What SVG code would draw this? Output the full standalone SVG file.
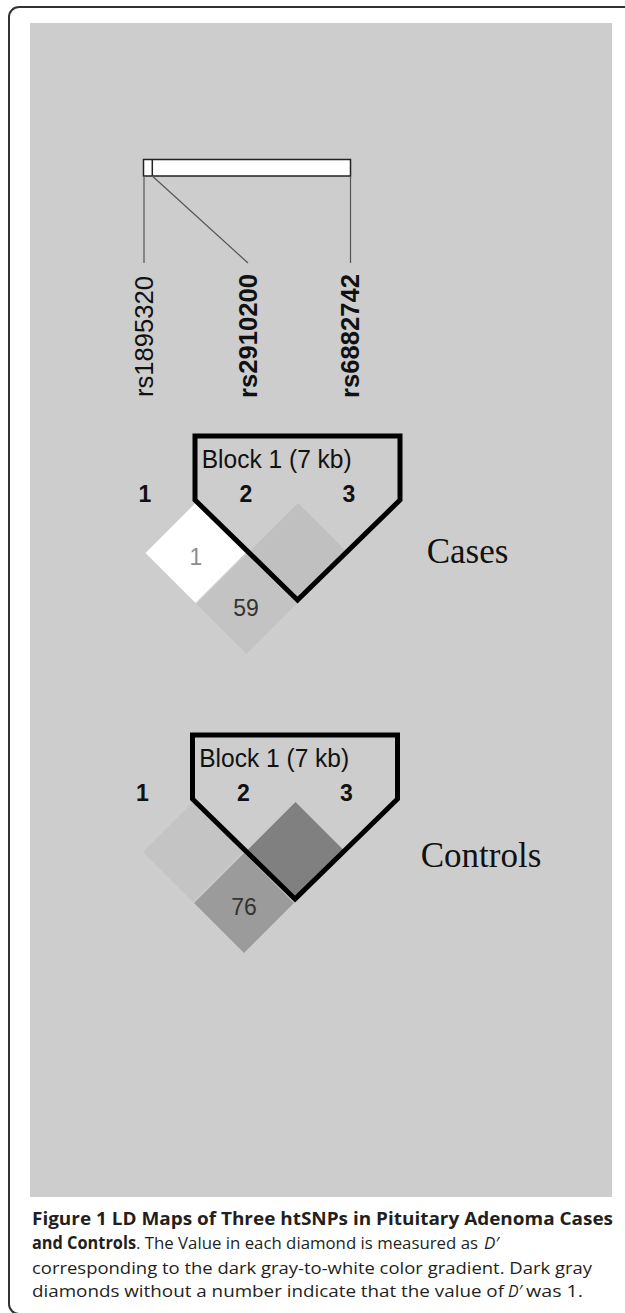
<svg xmlns="http://www.w3.org/2000/svg" width="625" height="1313" viewBox="0 0 625 1313">
<style>
.snp{font-family:"Liberation Sans",Arial,sans-serif;font-size:26px;fill:#111}
.snpb{font-family:"Liberation Sans",Arial,sans-serif;font-size:26px;font-weight:bold;fill:#111}
.idx{font-family:"Liberation Sans",Arial,sans-serif;font-size:23px;font-weight:bold;fill:#111;text-anchor:middle}
.blk{font-family:"Liberation Sans",Arial,sans-serif;font-size:25px;fill:#111}
.val{font-family:"Liberation Sans",Arial,sans-serif;font-size:23px;fill:#333;text-anchor:middle}
.grp{font-family:"Liberation Serif","Times New Roman",serif;font-size:35px;fill:#111}
.pent{fill:none;stroke:#000;stroke-width:5;stroke-linejoin:miter}
.cap{font-family:"Open Sans","Noto Sans",sans-serif;font-size:17px;fill:#231f20}
.capb{font-family:"Open Sans","Noto Sans",sans-serif;font-size:17px;font-weight:bold;fill:#231f20}
.capi{font-family:"Open Sans","Noto Sans",sans-serif;font-size:16px;font-style:italic;fill:#231f20}
.conn{stroke:#555;stroke-width:1.2;fill:none}
</style>
<rect x="0" y="0" width="625" height="1313" fill="#ffffff"/>
<path d="M625,7 H19 A10,10 0 0 0 9,17 V1304 A10,10 0 0 0 19,1314 H625" fill="none" stroke="#333" stroke-width="2"/>
<rect x="30" y="23" width="582" height="1174" fill="#cdcdcd"/>

<g id="bar">
<rect x="143.5" y="159.5" width="207" height="16.5" fill="#ffffff" stroke="#222" stroke-width="1.5"/>
<line x1="152.3" y1="159.5" x2="152.3" y2="176" stroke="#222" stroke-width="1.5"/>
</g>
<g id="connectors">
<line class="conn" x1="144" y1="176" x2="144" y2="263"/>
<line class="conn" x1="152.3" y1="176" x2="248" y2="263"/>
<line class="conn" x1="350.5" y1="176" x2="350.5" y2="263"/>
</g>
<g id="snp-labels">
<text class="snp" transform="translate(152.5,397) rotate(-90)" textLength="121" lengthAdjust="spacingAndGlyphs">rs1895320</text>
<text class="snpb" transform="translate(256.5,398) rotate(-90)" textLength="124" lengthAdjust="spacingAndGlyphs">rs2910200</text>
<text class="snpb" transform="translate(359,398) rotate(-90)" textLength="124" lengthAdjust="spacingAndGlyphs">rs6882742</text>
</g>

<g id="cases">
<g id="cases-d12"><polygon points="195.5,503 245.5,553 195.5,603 145.5,553" fill="#ffffff"/><text class="val" x="196" y="565" style="fill:#8c8c8c">1</text></g>
<g id="cases-d23"><polygon points="298,503 348,553 298,603 248,553" fill="#c0c0c0"/></g>
<g id="cases-d13"><polygon points="246.5,554 296.5,604 246.5,654 196.5,604" fill="#c3c3c3"/><text class="val" x="246" y="616">59</text></g>
<g id="cases-block"><polygon class="pent" points="195,500 195,436 400,436 400,500 297.5,600"/>
<text class="blk" x="201.7" y="468" textLength="150" lengthAdjust="spacingAndGlyphs">Block 1 (7 kb)</text></g>
<g id="cases-idx"><text class="idx" x="145" y="501.7">1</text><text class="idx" x="246" y="501.7">2</text><text class="idx" x="349" y="501.7">3</text></g>
</g>
<text id="cases-label" class="grp" x="426.7" y="562.7">Cases</text>

<g id="controls" transform="translate(-2.5,299)">
<g id="controls-d12"><polygon points="195.5,503 245.5,553 195.5,603 145.5,553" fill="#c4c4c4"/></g>
<g id="controls-d23"><polygon points="298,503 348,553 298,603 248,553" fill="#808080"/></g>
<g id="controls-d13"><polygon points="246.5,554 296.5,604 246.5,654 196.5,604" fill="#9b9b9b"/><text class="val" x="246.5" y="616">76</text></g>
<g id="controls-block"><polygon class="pent" points="195,500 195,436 400,436 400,500 297.5,600"/>
<text class="blk" x="201.7" y="468" textLength="150" lengthAdjust="spacingAndGlyphs">Block 1 (7 kb)</text></g>
<g id="controls-idx"><text class="idx" x="145" y="501.7">1</text><text class="idx" x="246" y="501.7">2</text><text class="idx" x="349" y="501.7">3</text></g>
</g>
<text id="controls-label" class="grp" x="420.7" y="866.7">Controls</text>

<g id="caption">
<text class="capb" x="32" y="1225" textLength="581" lengthAdjust="spacingAndGlyphs">Figure 1 LD Maps of Three htSNPs in Pituitary Adenoma Cases</text>
<text class="capb" x="32" y="1249" textLength="104" lengthAdjust="spacingAndGlyphs">and Controls</text>
<text class="cap" x="136" y="1249" textLength="342" lengthAdjust="spacingAndGlyphs">. The Value in each diamond is measured as</text>
<text class="capi" x="484" y="1249" textLength="15" lengthAdjust="spacingAndGlyphs">D′</text>
<text class="cap" x="32" y="1274" textLength="560" lengthAdjust="spacingAndGlyphs">corresponding to the dark gray-to-white color gradient. Dark gray</text>
<text class="cap" x="32" y="1297" textLength="472" lengthAdjust="spacingAndGlyphs">diamonds without a number indicate that the value of</text>
<text class="capi" x="508" y="1297" textLength="14" lengthAdjust="spacingAndGlyphs">D′</text>
<text class="cap" x="526" y="1297" textLength="57" lengthAdjust="spacingAndGlyphs">was 1.</text>
</g>
</svg>
